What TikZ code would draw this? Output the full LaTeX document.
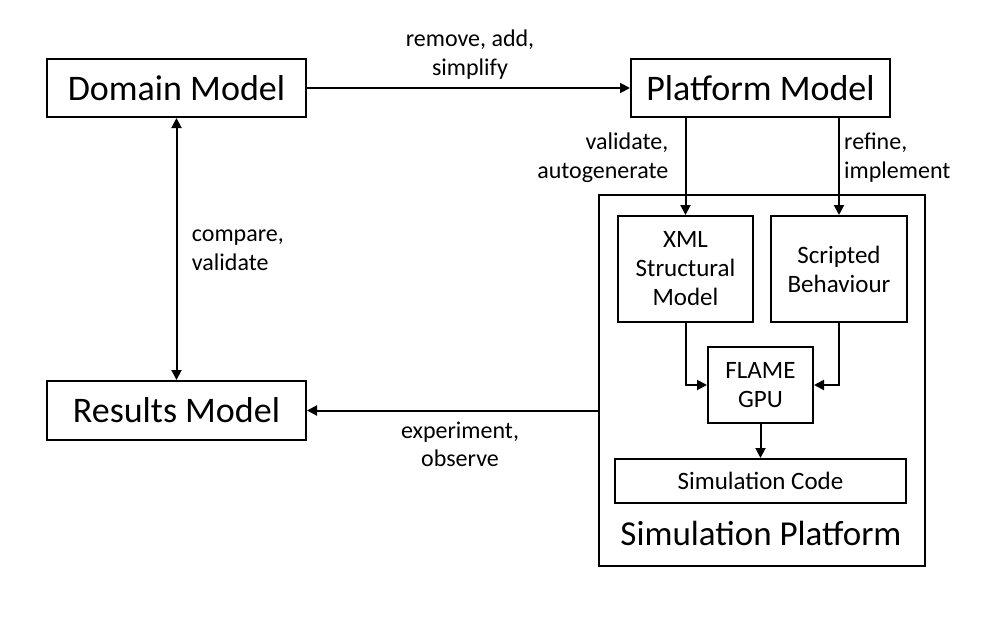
\documentclass[tikz,border=0pt]{standalone}
\usepackage{fontspec}
\setmainfont{Carlito}
\usetikzlibrary{arrows.meta}
\begin{document}
\begin{tikzpicture}[x=1pt,y=-1pt,
  box/.style={draw, line width=2pt, inner sep=0pt, align=center, font=\fontsize{25}{29}\selectfont},
  bigbox/.style={box, font=\fontsize{36}{43}\selectfont},
  lbl/.style={inner sep=0pt, font=\fontsize{24}{28.5}\selectfont},
  conn/.style={line width=2pt, -{Triangle[length=10pt,width=10pt]}},
  both/.style={line width=2pt, {Triangle[length=10pt,width=10pt]}-{Triangle[length=10pt,width=10pt]}},
]
\useasboundingbox (0,0) rectangle (994,618);
\node[bigbox, minimum width=259pt, minimum height=58pt] (domain) at (176.5,88) {Domain Model};
\node[bigbox, minimum width=259pt, minimum height=58pt] (pmodel) at (760.5,88) {Platform Model};
\node[bigbox, minimum width=259pt, minimum height=59pt] (results) at (176.5,410.5) {Results Model};
\node[draw, line width=2pt, inner sep=0pt, minimum width=326pt, minimum height=371pt] (simplat) at (762,380.5) {};
\node[box, minimum width=135pt, minimum height=106pt] (xml) at (685.5,269) {XML\\Structural\\Model};
\node[box, minimum width=136pt, minimum height=106pt] (scripted) at (839,269) {Scripted\\Behaviour};
\node[box, minimum width=105pt, minimum height=76pt] (flame) at (760.5,385) {FLAME\\GPU};
\node[box, minimum width=291pt, minimum height=44pt] (simcode) at (760.5,481) {Simulation Code};
\node[inner sep=0pt, anchor=base, font=\fontsize{35}{42}\selectfont] (sptitle) at (761,545) {Simulation Platform};

\draw[conn] (domain.east) -- (pmodel.west);
\draw[both] (domain.south) -- (results.north);
\draw[conn] (pmodel.south -| xml.north) -- (xml.north);
\draw[conn] (pmodel.south -| scripted.north) -- (scripted.north);
\draw[conn] (xml.south) |- (flame.west);
\draw[conn] (scripted.south) |- (flame.east);
\draw[conn] (flame.south) -- (simcode.north);
\draw[conn] (simplat.west |- results.east) -- (results.east);

\node[lbl, anchor=base, align=center] (l1) at (470,75.5) {remove, add,\\simplify};
\node[lbl, anchor=base west, align=left] (l2) at (191.7,270) {compare,\\validate};
\node[lbl, anchor=base east, align=right] (l3) at (668.5,178.5) {validate,\\autogenerate};
\node[lbl, anchor=base west, align=left] (l4) at (844,178.5) {refine,\\implement};
\node[lbl, anchor=base, align=center] (l5) at (460,466.5) {experiment,\\observe};
\end{tikzpicture}
\end{document}
